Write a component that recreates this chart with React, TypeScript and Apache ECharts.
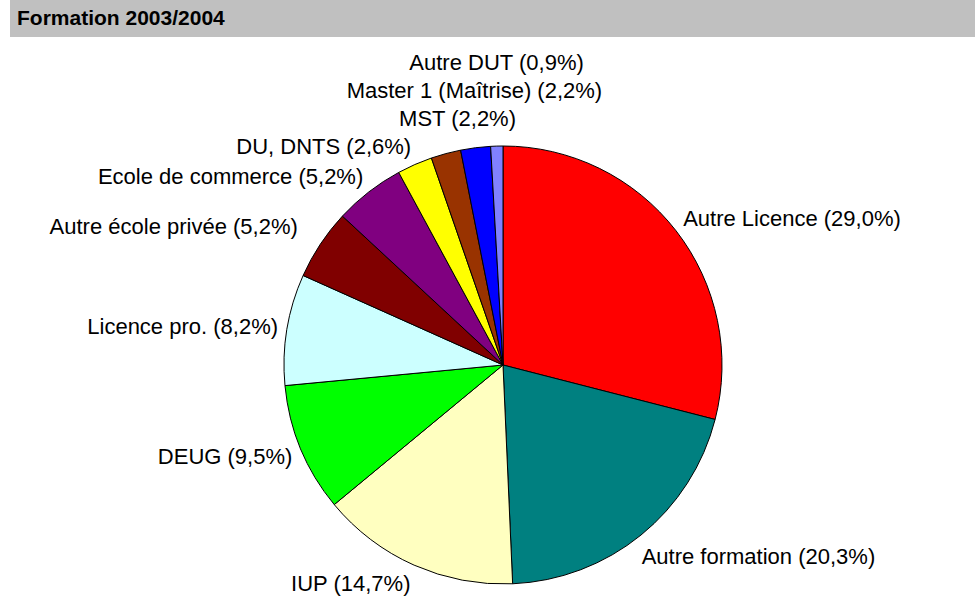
import React, { useEffect, useRef } from "react";
import * as echarts from "echarts";

const TITLE = "Formation 2003/2004";
const categories = [
  "Autre Licence",
  "Autre formation",
  "IUP",
  "DEUG",
  "Licence pro.",
  "Autre école privée",
  "Ecole de commerce",
  "DU, DNTS",
  "MST",
  "Master 1 (Maîtrise)",
  "Autre DUT",
];
const values = [29.0, 20.3, 14.7, 9.5, 8.2, 5.2, 5.2, 2.6, 2.2, 2.2, 0.9];
const colors = [
  "#ff0000",
  "#008080",
  "#ffffc0",
  "#00ff00",
  "#ccffff",
  "#800000",
  "#800080",
  "#ffff00",
  "#993300",
  "#0000ff",
  "#8080ff",
];

// layout (not data): label placement tweaks, by category name
const LABEL_NUDGE: Record<string, [number, number]> = {
  "Autre formation": [-5, 6],
  "Autre école privée": [-15, -7],
  MST: [14, 0],
};

const CX = 503;
const CY = 365;
const R = 219;
const LABEL_R = 228;
const LINE_H = 28;
const FONT = "'Liberation Sans', Arial, sans-serif";

function fmt(v: number) {
  return v.toFixed(1).replace(".", ",");
}

function computeLabelLayout() {
  const total = values.reduce((a, b) => a + b, 0);
  let cum = 0;
  const res: { x: number; y: number; align: string }[] = [];
  values.forEach((v) => {
    const mid = ((cum + v / 2) / total) * Math.PI * 2;
    cum += v;
    const s = Math.sin(mid);
    const c = Math.cos(mid);
    const px = CX + LABEL_R * s;
    const py = CY - LABEL_R * c - 11 * c;
    res.push({ x: px, y: py, align: s >= 0 ? "left" : "right" });
  });
  // stack crowded labels near the top (close to the vertical axis)
  let prevY = Infinity;
  for (let i = 0; i < res.length; i++) {
    const r = res[i];
    if (Math.abs(r.x - CX) < 70 && r.y < CY) {
      r.align = "center";
      r.y = Math.min(r.y, prevY - LINE_H);
    }
    if (r.y < CY && r.x < CX) prevY = r.y;
  }
  res.forEach((r, i) => {
    const n = LABEL_NUDGE[categories[i]];
    if (n) {
      r.x += n[0];
      r.y += n[1];
    }
  });
  return res;
}

export default function App() {
  const ref = useRef<HTMLDivElement>(null);
  useEffect(() => {
    document.body.style.margin = "0";
    if (!ref.current) return;
    const chart = echarts.init(ref.current, undefined, { renderer: "svg" });
    const layout = computeLabelLayout();
    chart.setOption({
      animation: false,
      backgroundColor: "#ffffff",
      title: {
        text: TITLE,
        left: 17,
        top: 7,
        padding: 0,
        textStyle: {
          fontFamily: FONT,
          fontSize: 21,
          fontWeight: "bold",
          color: "#000",
        },
      },
      graphic: [
        {
          type: "rect",
          z: -1,
          silent: true,
          shape: { x: 10, y: 0, width: 965, height: 37 },
          style: { fill: "#c0c0c0" },
        },
      ],
      series: [
        {
          type: "pie",
          center: [CX, CY],
          radius: [0, R],
          startAngle: 90,
          clockwise: true,
          avoidLabelOverlap: false,
          emphasis: { disabled: true },
          data: categories.map((name, i) => ({
            name,
            value: values[i],
            itemStyle: { color: colors[i] },
          })),
          itemStyle: { borderColor: "#000", borderWidth: 1 },
          label: {
            show: true,
            position: "outside",
            color: "#000",
            fontFamily: FONT,
            fontSize: 22,
            formatter: (p: any) => `${p.name} (${fmt(p.value)}%)`,
          },
          labelLine: { show: false },
          labelLayout: (p: any) => {
            const l = layout[p.dataIndex];
            return {
              x: l.x,
              y: l.y,
              align: l.align,
              verticalAlign: "middle",
              hideOverlap: false,
            };
          },
        },
      ],
    });
    return () => chart.dispose();
  }, []);
  return (
    <div
      ref={ref}
      style={{ position: "absolute", left: 0, top: 0, width: 975, height: 599 }}
    />
  );
}
